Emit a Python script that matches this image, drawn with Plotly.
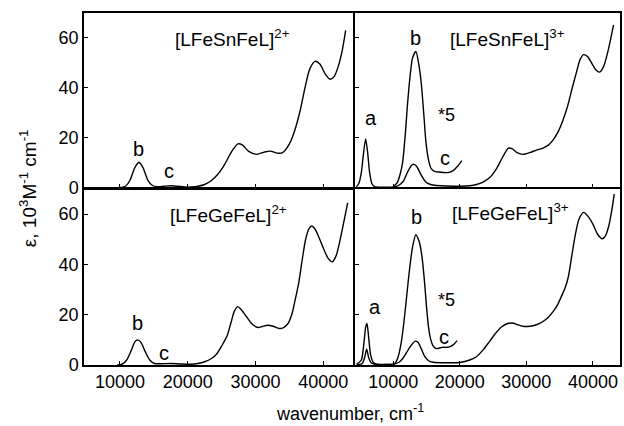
import plotly.graph_objects as go

# ---------------- data (wavenumber cm-1, epsilon 10^3 M-1 cm-1) ----------------
sn2_x = [9800, 10800, 11500, 12200, 12800, 13400, 14100, 14800, 15500, 16500, 17500, 18500,
         19500, 20500, 21500, 22500, 23500, 24500, 25500, 26500, 27400, 28000, 29000, 30200,
         31300, 32200, 33200, 34000, 35000, 35800, 36600, 37300, 38000, 38800, 39500, 40300,
         41000, 41600, 42200, 42800, 43300]
sn2_y = [0, 0.5, 3, 8, 10, 8, 3, 0.8, 0.3, 0.5, 0.7, 0.5,
         0.2, 0.2, 0.5, 1.2, 2.8, 5.5, 9.5, 14.5, 17.5, 17.2, 14.5, 13.3,
         14.2, 14.6, 13.8, 14.0, 17.5, 23, 31, 40, 47.5, 50.6, 49.5, 45.5,
         43.4, 44.5, 48.5, 55, 63]

sn3_x = [4450, 4800, 5200, 5500, 5850, 6150, 6450, 6800, 7200, 8500, 10000, 10800, 11500,
         12200, 12800, 13100, 13500, 14200, 14900, 15600, 16500, 18000, 20000, 21500, 22500,
         23500, 24500, 25500, 26500, 27300, 27900, 28600, 29500, 30500, 31500, 32500, 33300,
         34000, 34700, 35500, 36200, 36900, 37500, 38100, 38600, 39200, 39900, 40500, 41000,
         41600, 42200, 42700, 43100]
sn3_y = [0.3, 1.5, 6, 13, 19.5, 14, 6, 1.5, 0.3, 0.1, 0.2, 0.8, 2.5,
         6.5, 9, 9.3, 8.5, 5, 2.2, 1.2, 0.8, 0.6, 0.5, 0.7, 1.2,
         2.2, 4, 7.5, 12.5, 15.8, 15.5, 14, 13.3, 14, 15, 15.8, 17,
         19, 22, 27, 32.7, 40, 46, 51.5, 53.3, 52.5, 49.5, 47, 46.3,
         48.5, 54, 60, 65.2]

sn3x5_x = [10000, 10600, 11000, 11400, 11800, 12100, 12500, 12900, 13400, 13800, 14200, 14600,
           14900, 15300, 15700, 16200, 16800, 17500, 18300, 19000, 19600, 20300]
sn3x5_y = [0.3, 2, 5, 10, 21, 32, 44, 52, 54.6, 50, 42, 29,
           18.5, 11, 7.6, 6.5, 6.2, 6.0, 6.0, 6.8, 8.3, 10.8]

ge2_x = [9600, 10300, 11000, 11700, 12200, 12600, 13100, 13700, 14400, 15100, 16000, 17500,
         19000, 20500, 21500, 22500, 23500, 24300, 25000, 25800, 26400, 26900, 27400, 27900,
         28600, 29500, 30400, 31000, 31800, 32600, 33500, 34200, 34800, 35400, 35900, 36400,
         36900, 37400, 37900, 38300, 38800, 39400, 40000, 40700, 41300, 41900, 42500, 43000,
         43600]
ge2_y = [0, 0.3, 2, 6, 9.2, 10, 9, 5.5, 2, 0.6, 0.5, 0.6,
         0.4, 0.3, 0.6, 1.3, 2.6, 4.5, 7.5, 11.5, 17, 21.5, 23.2, 22,
         19.5, 16.3, 14.9, 15.3, 15.8, 15.4, 14.5, 15, 16.5, 20.5, 26.5, 33,
         42, 50, 54.2, 55.3, 54, 50.5, 46.5, 42.5, 41, 43.5, 50, 56.5,
         64.5]

ge3_x = [4500, 5300, 5700, 6000, 6300, 6700, 7200, 8500, 10000, 10800, 11400, 11900,
         12600, 13300, 13700, 14200, 14700, 15300, 16000, 18000, 20000, 21500, 22500, 23500,
         24500, 25500, 26300, 27200, 27900, 28700, 29500, 30500, 31500, 32500, 33300, 34100,
         34700, 35300, 35800, 36300, 36800, 37300, 37900, 38600, 39300, 40000, 40700, 41400,
         41900, 42400, 42800, 43200]
ge3_y = [0.2, 0.5, 3, 6.3, 3, 0.8, 0.3, 0.2, 0.3, 1, 2.5, 4.5,
         7.5, 9.5, 9, 6.5, 3.5, 1.7, 1.1, 0.9, 1, 2, 3.3, 6,
         9.5, 13, 15.2, 16.5, 16.7, 16, 15.4, 15.4, 16, 17.3, 19, 21.5,
         24, 27.5, 30.5, 35, 43, 51, 58, 60.7, 59, 56, 52, 50.2,
         51.5, 55.5, 61, 68]

ge3x5_x = [4500, 5200, 5600, 5850, 6050, 6300, 6600, 7000, 7500, 9000, 10200, 10700,
           11200, 11600, 12000, 12400, 12900, 13400, 13900, 14300, 14700, 15000, 15300, 15600,
           16000, 16500, 17300, 18300, 19000, 19600]
ge3x5_y = [0.3, 2, 9, 15, 16.5, 11, 4, 1, 0.3, 0.2, 0.5, 3,
           9, 17, 27, 37, 47, 51.8, 49, 43.4, 33, 23, 15, 10.5,
           7.5, 6.5, 7, 7.1, 8, 9.7]

tick_vals = [10000, 20000, 30000, 40000]
tick_text = ["10000", "20000", "30000", "40000"]
y_ticks = [0, 20, 40, 60]
y_text = ["0", "20", "40", "60"]

titles = ["[LFeSnFeL]<sup>2+</sup>", "[LFeSnFeL]<sup>3+</sup>",
          "[LFeGeFeL]<sup>2+</sup>", "[LFeGeFeL]<sup>3+</sup>"]

FONT = "Liberation Sans, Arial, sans-serif"
line = dict(color="black", width=1.4, shape="spline", smoothing=0.7)

fig = go.Figure()
curves = [
    (sn2_x, sn2_y, "x", "y"),
    (sn3_x, sn3_y, "x2", "y2"),
    (sn3x5_x, sn3x5_y, "x2", "y2"),
    (ge2_x, ge2_y, "x3", "y3"),
    (ge3_x, ge3_y, "x4", "y4"),
    (ge3x5_x, ge3x5_y, "x4", "y4"),
]
for xs, ys, xa, ya in curves:
    fig.add_trace(go.Scatter(x=xs, y=ys, mode="lines", line=line, xaxis=xa, yaxis=ya,
                             showlegend=False, hoverinfo="skip"))

LW = 1.5
PW, PH = 538.0, 352.0
split = 0.5056
left_dom = [0, split + LW / PW]
right_dom = [split, 1]
top_dom = [0.5 + LW / PH, 1]
bot_dom = [0, 0.5]
xl_range = [4700, 44900]
xr_range = [4250, 44070]
yr = [0, 70]

common = dict(showline=True, linecolor="black", linewidth=LW, mirror=True,
              showgrid=False, zeroline=False, ticks="inside", ticklen=4,
              tickcolor="black", tickfont=dict(family=FONT, size=18, color="black"))

fig.update_layout(
    width=624, height=426,
    margin=dict(l=84, r=2, t=13, b=61),
    paper_bgcolor="white", plot_bgcolor="white",
    font=dict(family=FONT, color="black"),
    xaxis=dict(domain=left_dom, range=xl_range, tickvals=tick_vals, ticktext=tick_text,
               showticklabels=False, anchor="y", **common),
    xaxis2=dict(domain=right_dom, range=xr_range, tickvals=tick_vals, ticktext=tick_text,
                showticklabels=False, anchor="y2", **common),
    xaxis3=dict(domain=left_dom, range=xl_range, tickvals=tick_vals, ticktext=tick_text,
                anchor="y3", **common),
    xaxis4=dict(domain=right_dom, range=xr_range, tickvals=tick_vals, ticktext=tick_text,
                anchor="y4", **common),
    yaxis=dict(domain=top_dom, range=yr, tickvals=y_ticks, ticktext=y_text, anchor="x", **common),
    yaxis2=dict(domain=top_dom, range=yr, tickvals=y_ticks, ticktext=y_text,
                showticklabels=False, anchor="x2", **common),
    yaxis3=dict(domain=bot_dom, range=yr, tickvals=y_ticks, ticktext=y_text, anchor="x3", **common),
    yaxis4=dict(domain=bot_dom, range=yr, tickvals=y_ticks, ticktext=y_text,
                showticklabels=False, anchor="x4", **common),
)

ann = []
def txt(x, y, s, xr, yrf, size=20, xanchor="center"):
    ann.append(dict(x=x, y=y, xref=xr, yref=yrf, text=s, showarrow=False,
                    xanchor=xanchor, yanchor="middle",
                    font=dict(family=FONT, size=size, color="black")))

# panel titles
txt(17850, 60, titles[0], "x", "y", size=19, xanchor="left")
txt(18290, 60, titles[1], "x2", "y2", size=19, xanchor="left")
txt(17110, 60, titles[2], "x3", "y3", size=19, xanchor="left")
txt(18590, 61, titles[3], "x4", "y4", size=19, xanchor="left")
# band labels
txt(12680, 15.5, "b", "x", "y")
txt(17260, 6.8, "c", "x", "y")
txt(6640, 27.8, "a", "x2", "y2")
txt(13360, 60, "b", "x2", "y2")
txt(17990, 29, "*5", "x2", "y2", size=18)
txt(17700, 12, "c", "x2", "y2")
txt(12530, 16.6, "b", "x3", "y3")
txt(16520, 4.9, "c", "x3", "y3")
txt(7240, 23, "a", "x4", "y4")
txt(13510, 59, "b", "x4", "y4")
txt(17990, 26, "*5", "x4", "y4", size=18)
txt(17550, 11, "c", "x4", "y4")

# axis titles
ann.append(dict(x=0.496, y=-0.136, xref="paper", yref="paper", showarrow=False,
                text="wavenumber, cm<sup>-1</sup>", xanchor="center", yanchor="middle",
                font=dict(family=FONT, size=18, color="black")))
ann.append(dict(x=-0.104, y=0.503, xref="paper", yref="paper", showarrow=False,
                text="ε, 10<sup>3</sup>M<sup>-1</sup> cm<sup>-1</sup>", textangle=-90,
                xanchor="center", yanchor="middle",
                font=dict(family=FONT, size=19, color="black")))
fig.update_layout(annotations=ann)

fig.write_html("out.html")
